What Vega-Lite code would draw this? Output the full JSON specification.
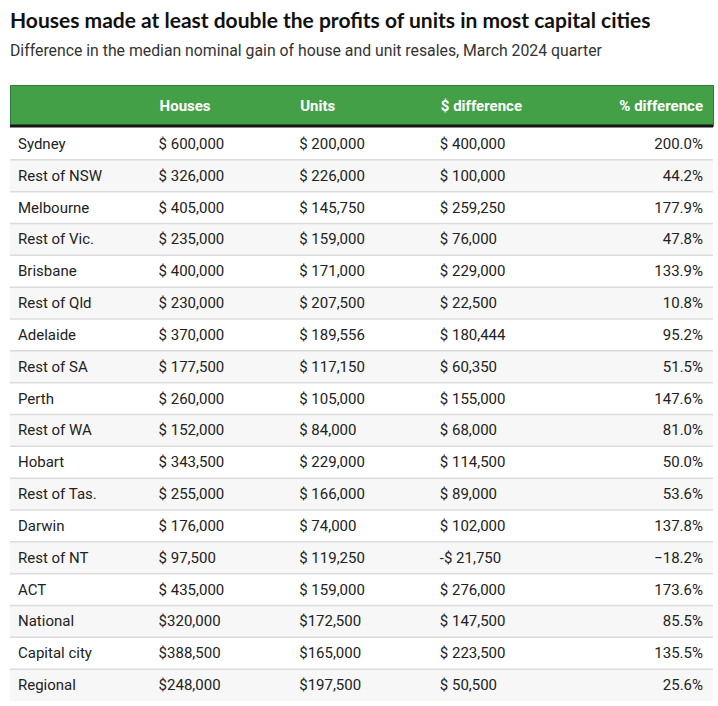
{
  "$schema": "https://vega.github.io/schema/vega-lite/v6.json",
  "background": "white",
  "padding": {"left": 8, "right": 7, "top": 10, "bottom": 0},
  "title": {
    "text": "Houses made at least double the profits of units in most capital cities",
    "subtitle": "Difference in the median nominal gain of house and unit resales, March 2024 quarter",
    "anchor": "start",
    "frame": "group",
    "font": "Lato",
    "fontSize": 21,
    "fontWeight": "bold",
    "color": "#111111",
    "subtitleFont": "Roboto",
    "subtitleFontSize": 15.8,
    "subtitleColor": "#333333",
    "subtitlePadding": 12,
    "offset": 26
  },
  "config": {"view": {"stroke": null}, "font": "Roboto"},
  "spacing": 0,
  "datasets": {
    "rows": [
      {"row": 1, "region": "Sydney", "houses": "$ 600,000", "units": "$ 200,000", "diff": "$ 400,000", "pct": "200.0%"},
      {"row": 2, "region": "Rest of NSW", "houses": "$ 326,000", "units": "$ 226,000", "diff": "$ 100,000", "pct": "44.2%"},
      {"row": 3, "region": "Melbourne", "houses": "$ 405,000", "units": "$ 145,750", "diff": "$ 259,250", "pct": "177.9%"},
      {"row": 4, "region": "Rest of Vic.", "houses": "$ 235,000", "units": "$ 159,000", "diff": "$ 76,000", "pct": "47.8%"},
      {"row": 5, "region": "Brisbane", "houses": "$ 400,000", "units": "$ 171,000", "diff": "$ 229,000", "pct": "133.9%"},
      {"row": 6, "region": "Rest of Qld", "houses": "$ 230,000", "units": "$ 207,500", "diff": "$ 22,500", "pct": "10.8%"},
      {"row": 7, "region": "Adelaide", "houses": "$ 370,000", "units": "$ 189,556", "diff": "$ 180,444", "pct": "95.2%"},
      {"row": 8, "region": "Rest of SA", "houses": "$ 177,500", "units": "$ 117,150", "diff": "$ 60,350", "pct": "51.5%"},
      {"row": 9, "region": "Perth", "houses": "$ 260,000", "units": "$ 105,000", "diff": "$ 155,000", "pct": "147.6%"},
      {"row": 10, "region": "Rest of WA", "houses": "$ 152,000", "units": "$ 84,000", "diff": "$ 68,000", "pct": "81.0%"},
      {"row": 11, "region": "Hobart", "houses": "$ 343,500", "units": "$ 229,000", "diff": "$ 114,500", "pct": "50.0%"},
      {"row": 12, "region": "Rest of Tas.", "houses": "$ 255,000", "units": "$ 166,000", "diff": "$ 89,000", "pct": "53.6%"},
      {"row": 13, "region": "Darwin", "houses": "$ 176,000", "units": "$ 74,000", "diff": "$ 102,000", "pct": "137.8%"},
      {"row": 14, "region": "Rest of NT", "houses": "$ 97,500", "units": "$ 119,250", "diff": "-$ 21,750", "pct": "−18.2%"},
      {"row": 15, "region": "ACT", "houses": "$ 435,000", "units": "$ 159,000", "diff": "$ 276,000", "pct": "173.6%"},
      {"row": 16, "region": "National", "houses": "$320,000", "units": "$172,500", "diff": "$ 147,500", "pct": "85.5%"},
      {"row": 17, "region": "Capital city", "houses": "$388,500", "units": "$165,000", "diff": "$ 223,500", "pct": "135.5%"},
      {"row": 18, "region": "Regional", "houses": "$248,000", "units": "$197,500", "diff": "$ 50,500", "pct": "25.6%"}
    ],
    "headers": [
      {"key": "houses", "label": "Houses"},
      {"key": "units", "label": "Units"},
      {"key": "diff", "label": "$ difference"},
      {"key": "pct", "label": "% difference"}
    ]
  },
  "vconcat": [
    {
      "width": 703,
      "height": 41,
      "view": {"fill": "#43a047", "stroke": "#2f7d32"},
      "data": {"name": "headers"},
      "layer": [
        {
          "transform": [{"filter": "datum.key != 'pct'"}],
          "mark": {"type": "text", "align": "left", "baseline": "middle", "dx": 9, "font": "Roboto", "fontSize": 15, "fontWeight": "bold", "color": "white"},
          "encoding": {
            "x": {"field": "key", "type": "nominal", "bandPosition": 0,
                  "scale": {"type": "band", "domain": ["region", "houses", "units", "diff", "pct"], "paddingInner": 0, "paddingOuter": 0}, "axis": null},
            "text": {"field": "label"}
          }
        },
        {
          "transform": [{"filter": "datum.key == 'pct'"}],
          "mark": {"type": "text", "align": "right", "baseline": "middle", "dx": -10, "font": "Roboto", "fontSize": 15, "fontWeight": "bold", "color": "white"},
          "encoding": {
            "x": {"field": "key", "type": "nominal", "bandPosition": 1,
                  "scale": {"type": "band", "domain": ["region", "houses", "units", "diff", "pct"], "paddingInner": 0, "paddingOuter": 0}, "axis": null},
            "text": {"field": "label"}
          }
        },
        {
          "transform": [{"filter": "datum.key == 'pct'"}],
          "mark": {"type": "rule", "color": "#151515", "strokeWidth": 3},
          "encoding": {"y": {"value": "height"}}
        }
      ]
    },
    {
      "width": 703,
      "height": 573,
      "data": {"name": "rows"},
      "layer": [
        {
          "transform": [{"filter": "datum.row % 2 == 0"}],
          "mark": {"type": "rect", "color": "#f7f7f7"},
          "encoding": {
            "y": {"field": "row", "type": "ordinal",
                  "scale": {"type": "band", "paddingInner": 0, "paddingOuter": 0}, "axis": null}
          }
        },
        {
          "transform": [{"filter": "datum.row > 1"}],
          "mark": {"type": "rule", "color": "#dcdcdc", "strokeWidth": 1.5},
          "encoding": {
            "y": {"field": "row", "type": "ordinal", "bandPosition": 0,
                  "scale": {"type": "band", "paddingInner": 0, "paddingOuter": 0}, "axis": null}
          }
        },
        {
          "transform": [{"fold": ["region", "houses", "units", "diff"], "as": ["key", "value"]}],
          "mark": {"type": "text", "align": "left", "baseline": "middle", "dx": 8, "font": "Roboto", "fontSize": 15, "color": "#222222"},
          "encoding": {
            "x": {"field": "key", "type": "nominal", "bandPosition": 0,
                  "scale": {"type": "band", "domain": ["region", "houses", "units", "diff", "pct"], "paddingInner": 0, "paddingOuter": 0}, "axis": null},
            "y": {"field": "row", "type": "ordinal",
                  "scale": {"type": "band", "paddingInner": 0, "paddingOuter": 0}, "axis": null},
            "text": {"field": "value"}
          }
        },
        {
          "transform": [{"fold": ["pct"], "as": ["key", "value"]}],
          "mark": {"type": "text", "align": "right", "baseline": "middle", "dx": -10, "font": "Roboto", "fontSize": 15, "color": "#222222"},
          "encoding": {
            "x": {"field": "key", "type": "nominal", "bandPosition": 1,
                  "scale": {"type": "band", "domain": ["region", "houses", "units", "diff", "pct"], "paddingInner": 0, "paddingOuter": 0}, "axis": null},
            "y": {"field": "row", "type": "ordinal",
                  "scale": {"type": "band", "paddingInner": 0, "paddingOuter": 0}, "axis": null},
            "text": {"field": "value"}
          }
        }
      ]
    }
  ]
}
